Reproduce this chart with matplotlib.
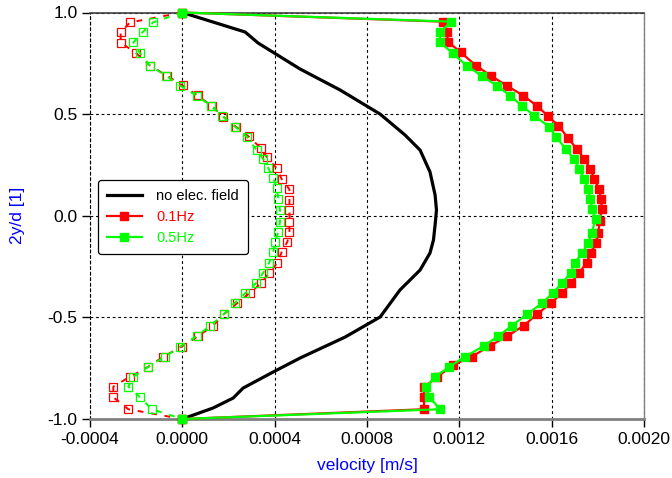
import matplotlib
matplotlib.use("Agg")
import matplotlib.pyplot as plt
import numpy as np

plt.rcParams['font.family'] = ['Liberation Sans', 'DejaVu Sans']

# ---- data ----
# no electric field profile
y_nofield = [1.0, 0.904, 0.850, 0.722, 0.619, 0.500, 0.397, 0.323, 0.215, 0.102, 0.028,
             -0.045, -0.119, -0.183, -0.267, -0.365, -0.498, -0.597, -0.700, -0.769,
             -0.848, -0.897, -0.946, -1.0]
v_nofield = [0.0, 2.72, 3.28, 5.10, 6.83, 8.57, 9.65, 10.30, 10.73, 10.95, 11.01,
             10.95, 10.88, 10.73, 10.30, 9.43, 8.57, 7.05, 5.10, 3.93,
             2.63, 2.20, 1.33, 0.0]

# 0.1 Hz, maximum velocity (filled squares)
y_01_max = [1.0, 0.955, 0.903, 0.856, 0.804, 0.738, 0.689, 0.640, 0.591, 0.541, 0.492,
            0.443, 0.384, 0.328, 0.279, 0.230, 0.181, 0.131, 0.082, 0.033, -0.026,
            -0.083, -0.133, -0.182, -0.231, -0.280, -0.332, -0.379, -0.431, -0.483,
            -0.540, -0.592, -0.640, -0.693, -0.734, -0.792, -0.844, -0.893, -0.952, -1.0]
v_01_max = [0.0, 11.28, 11.46, 11.51, 12.06, 12.73, 13.36, 14.06, 14.77, 15.36, 15.83,
            16.29, 16.70, 17.09, 17.42, 17.68, 17.85, 18.05, 18.15, 18.17, 18.08,
            18.02, 17.92, 17.69, 17.52, 17.19, 16.83, 16.46, 15.96, 15.38,
            14.80, 14.08, 13.33, 12.54, 11.74, 11.05, 10.47, 10.47, 10.47, 0.0]

# 0.1 Hz, minimum velocity (open squares)
y_01_min = [1.0, 0.951, 0.902, 0.852, 0.801, 0.739, 0.690, 0.641, 0.592, 0.540, 0.487,
            0.439, 0.390, 0.332, 0.287, 0.233, 0.179, 0.130, 0.077, 0.028, -0.029,
            -0.078, -0.128, -0.177, -0.231, -0.280, -0.332, -0.379, -0.431, -0.483,
            -0.542, -0.592, -0.644, -0.693, -0.743, -0.792, -0.841, -0.893, -0.952, -1.0]
v_01_min = [0.0, -2.27, -2.67, -2.67, -2.01, -1.40, -0.68, 0.01, 0.66, 1.27, 1.78,
            2.31, 2.87, 3.41, 3.67, 4.09, 4.31, 4.64, 4.64, 4.64, 4.64,
            4.64, 4.55, 4.31, 4.12, 3.77, 3.41, 2.93, 2.37, 1.81,
            1.32, 0.69, -0.03, -0.82, -1.47, -2.27, -2.99, -2.99, -2.34, 0.0]

# 0.5 Hz, maximum velocity (filled squares)
y_05_max = [1.0, 0.955, 0.903, 0.853, 0.799, 0.738, 0.689, 0.640, 0.591, 0.541, 0.492,
            0.438, 0.389, 0.328, 0.279, 0.230, 0.181, 0.131, 0.082, 0.033, -0.016,
            -0.083, -0.133, -0.182, -0.231, -0.280, -0.332, -0.379, -0.431, -0.483,
            -0.542, -0.592, -0.640, -0.693, -0.743, -0.792, -0.844, -0.893, -0.952, -1.0]
v_05_max = [0.0, 11.64, 11.17, 11.17, 11.72, 12.32, 12.97, 13.62, 14.20, 14.71, 15.25,
            15.89, 16.19, 16.62, 16.97, 17.20, 17.40, 17.59, 17.68, 17.76, 17.90,
            17.74, 17.59, 17.33, 17.01, 16.84, 16.44, 16.07, 15.57, 14.95,
            14.27, 13.69, 13.07, 12.25, 11.57, 10.95, 10.56, 10.70, 11.17, 0.0]

# 0.5 Hz, minimum velocity (open squares)
y_05_min = [1.0, 0.952, 0.903, 0.853, 0.799, 0.738, 0.689, 0.640, 0.591, 0.541, 0.492,
            0.438, 0.389, 0.323, 0.278, 0.233, 0.184, 0.135, 0.081, 0.028, -0.029,
            -0.078, -0.128, -0.177, -0.231, -0.280, -0.332, -0.382, -0.428, -0.483,
            -0.542, -0.592, -0.644, -0.693, -0.743, -0.792, -0.841, -0.893, -0.952, -1.0]
v_05_min = [0.0, -1.26, -1.72, -2.12, -1.83, -1.40, -0.71, -0.10, 0.62, 1.24, 1.71,
            2.28, 2.79, 3.22, 3.51, 3.73, 3.94, 4.09, 4.16, 4.23, 4.23,
            4.16, 4.02, 3.94, 3.76, 3.51, 3.19, 2.72, 2.28, 1.81,
            1.20, 0.62, -0.10, -0.75, -1.47, -2.12, -2.34, -1.83, -1.33, 0.0]

VSCALE = 1e-4  # velocities above are in units of 1e-4 m/s

x_ticks = [-0.0004, 0.0, 0.0004, 0.0008, 0.0012, 0.0016, 0.0020]
x_ticklabels = ["-0.0004", "0.0000", "0.0004", "0.0008", "0.0012", "0.0016", "0.0020"]
y_ticks = [-1.0, -0.5, 0.0, 0.5, 1.0]
y_ticklabels = ["-1.0", "-0.5", "0.0", "0.5", "1.0"]

labels = ["no elec. field", "0.1Hz", "0.5Hz"]
RED = "#ff0000"
GREEN = "#00ff00"

# ---- figure ----
fig = plt.figure(figsize=(6.72, 4.78), dpi=100)
ax = fig.add_axes([90 / 672, 1 - 419 / 478, (644 - 90) / 672, (419 - 12.5) / 478])

def sc(v):
    return np.asarray(v) * VSCALE

ax.plot(sc(v_nofield), y_nofield, color="black", lw=2.3, label=labels[0], zorder=3)

ax.plot(sc(v_01_min), y_01_min, color=RED, lw=1.4, ls=(0, (3, 4)), marker="s",
        markersize=5.5, markerfacecolor="none", markeredgecolor=RED, markeredgewidth=0.9,
        zorder=4, clip_on=False)
ax.plot(sc(v_05_min), y_05_min, color=GREEN, lw=1.4, ls=(0, (3, 4)), marker="s",
        markersize=5.5, markerfacecolor="none", markeredgecolor=GREEN, markeredgewidth=0.9,
        zorder=5, clip_on=False)

ax.plot(sc(v_01_max), y_01_max, color=RED, lw=1.6, marker="s", markersize=5.5,
        markerfacecolor=RED, markeredgecolor=RED, label=labels[1], zorder=4, clip_on=False)
ax.plot(sc(v_05_max), y_05_max, color=GREEN, lw=1.6, marker="s", markersize=5.5,
        markerfacecolor=GREEN, markeredgecolor=GREEN, label=labels[2], zorder=5, clip_on=False)

ax.set_xlim(-0.0004, 0.0020)
ax.set_ylim(-1.0, 1.0)
ax.set_xticks(x_ticks)
ax.set_xticklabels(x_ticklabels)
ax.set_yticks(y_ticks)
ax.set_yticklabels(y_ticklabels)
ax.tick_params(axis="both", direction="out", length=6, width=1, color="black",
               labelsize=12.5, pad=3)

ax.grid(True, color="black", ls=(0, (2.5, 2.5)), lw=0.8)
ax.set_axisbelow(True)

ax.spines["left"].set_linestyle((0, (2.5, 2.5)))
ax.spines["left"].set_linewidth(0.8)
ax.spines["left"].set_color("black")
ax.spines["bottom"].set_color("#808080")
ax.spines["bottom"].set_linewidth(2)
ax.spines["top"].set_color("#404040")
ax.spines["top"].set_linewidth(1.2)
ax.spines["right"].set_color("#808080")
ax.spines["right"].set_linewidth(1)

ax.set_xlabel("velocity [m/s]", color="#0000ff", fontsize=12.5, labelpad=8)
ax.set_ylabel("2y/d [1]", color="#0000ff", fontsize=12.5, labelpad=16)

leg = ax.legend(loc="upper left", bbox_to_anchor=(8 / 554, 1 - (180 - 12.5) / 406.5),
                fontsize=10.5, frameon=True, fancybox=True, edgecolor="black",
                framealpha=1, handlelength=2.4, borderpad=0.6, labelspacing=0.5,
                handletextpad=1.0, borderaxespad=0)
leg.get_frame().set_linewidth(0.9)
for txt, col in zip(leg.get_texts(), ["black", RED, GREEN]):
    txt.set_color(col)

fig.savefig("out.png", dpi=100)
